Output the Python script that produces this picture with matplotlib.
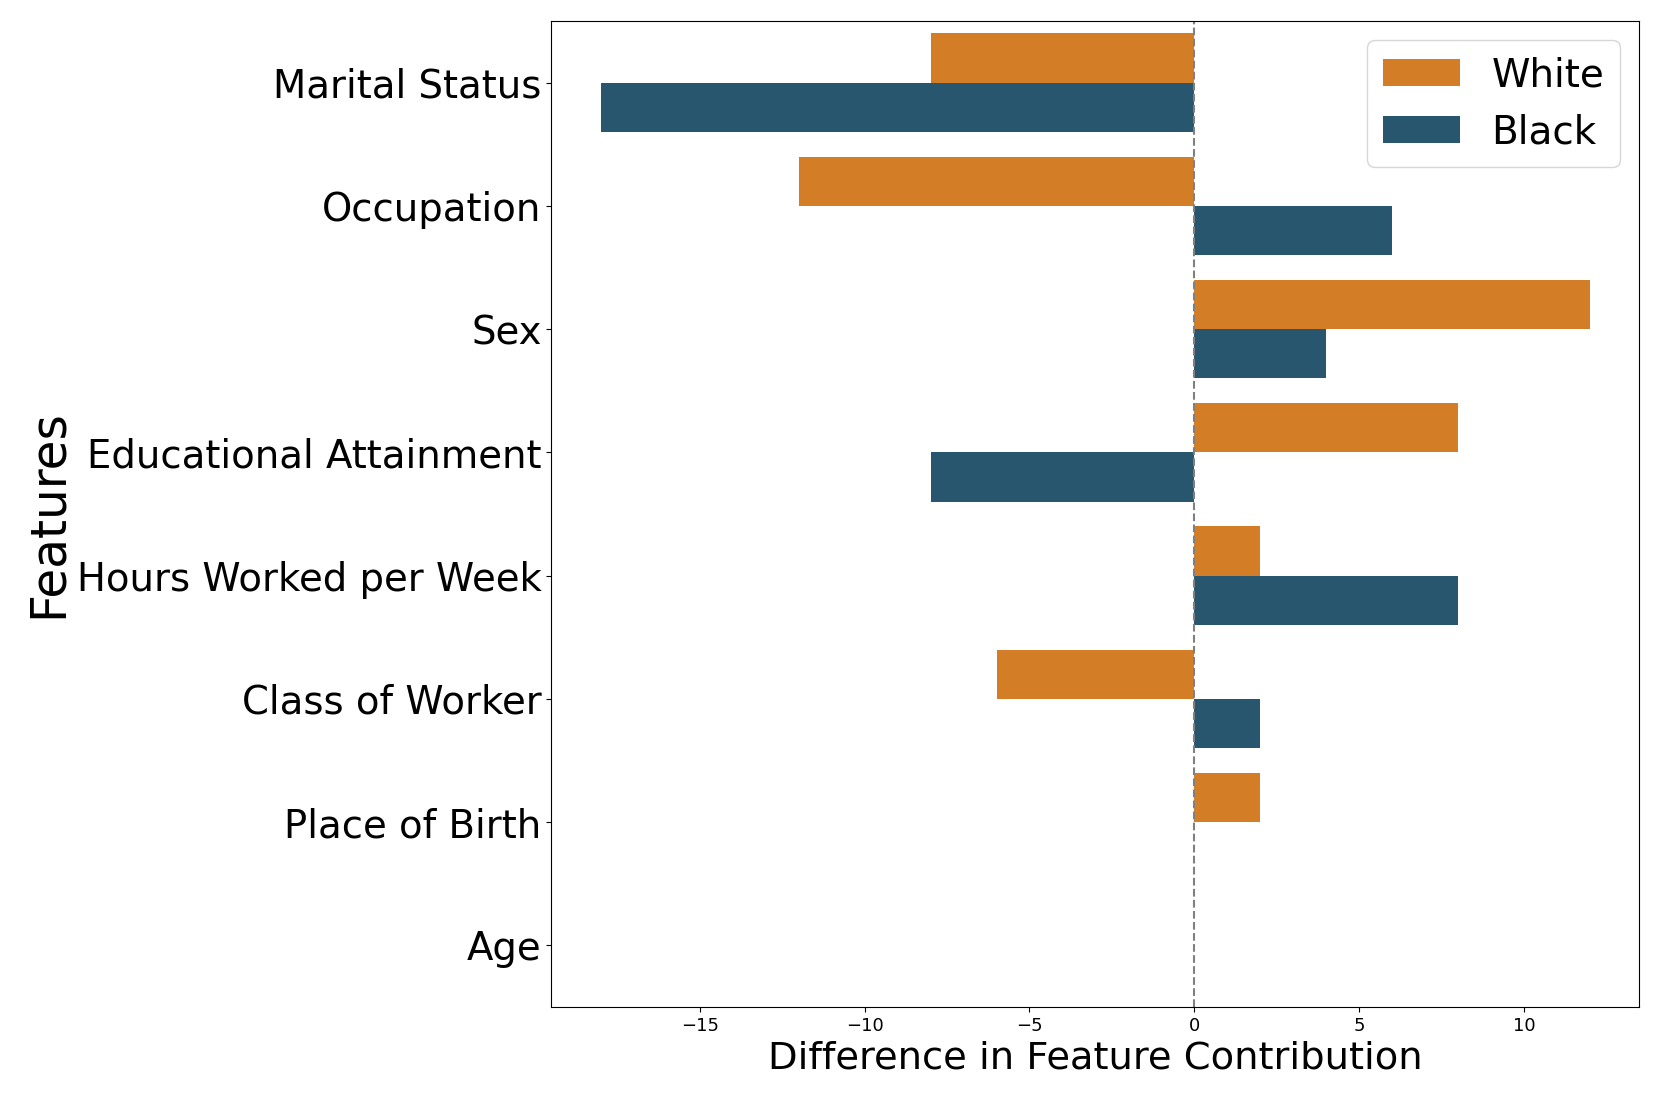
import pandas as pd
import matplotlib
matplotlib.use('Agg')
import matplotlib.pyplot as plt
import seaborn as sns

# Feature contribution differences per group
features = ['Marital Status', 'Occupation', 'Sex', 'Educational Attainment',
            'Hours Worked per Week', 'Class of Worker', 'Place of Birth', 'Age']
white_diff = [-8, -12, 12, 8, 2, -6, 2, 0]
black_diff = [-18, 6, 4, -8, 8, 2, 0, 0]
groups = ['White', 'Black']
colors = ['#D37E26', '#27566E']

df = pd.DataFrame({
    'Feature': features * 2,
    'Difference': white_diff + black_diff,
    'Group': ['White'] * len(features) + ['Black'] * len(features),
})

fig, ax = plt.subplots(figsize=(16.61, 11.07), dpi=100)
sns.barplot(data=df, y='Feature', x='Difference', hue='Group', hue_order=groups,
            palette=colors, saturation=1, orient='h', ax=ax)

ax.axvline(0, color='gray', linestyle='--', linewidth=1.5)
ax.set_xlabel('Difference in Feature Contribution', fontsize=27.7)
ax.set_ylabel('Features', fontsize=35)
ax.tick_params(axis='y', labelsize=27.8)
ax.tick_params(axis='x', labelsize=13)
ax.legend(fontsize=28, loc='upper right')

plt.subplots_adjust(left=0.332, right=0.987, top=0.981, bottom=0.0903)
plt.savefig('out.png', dpi=100)
